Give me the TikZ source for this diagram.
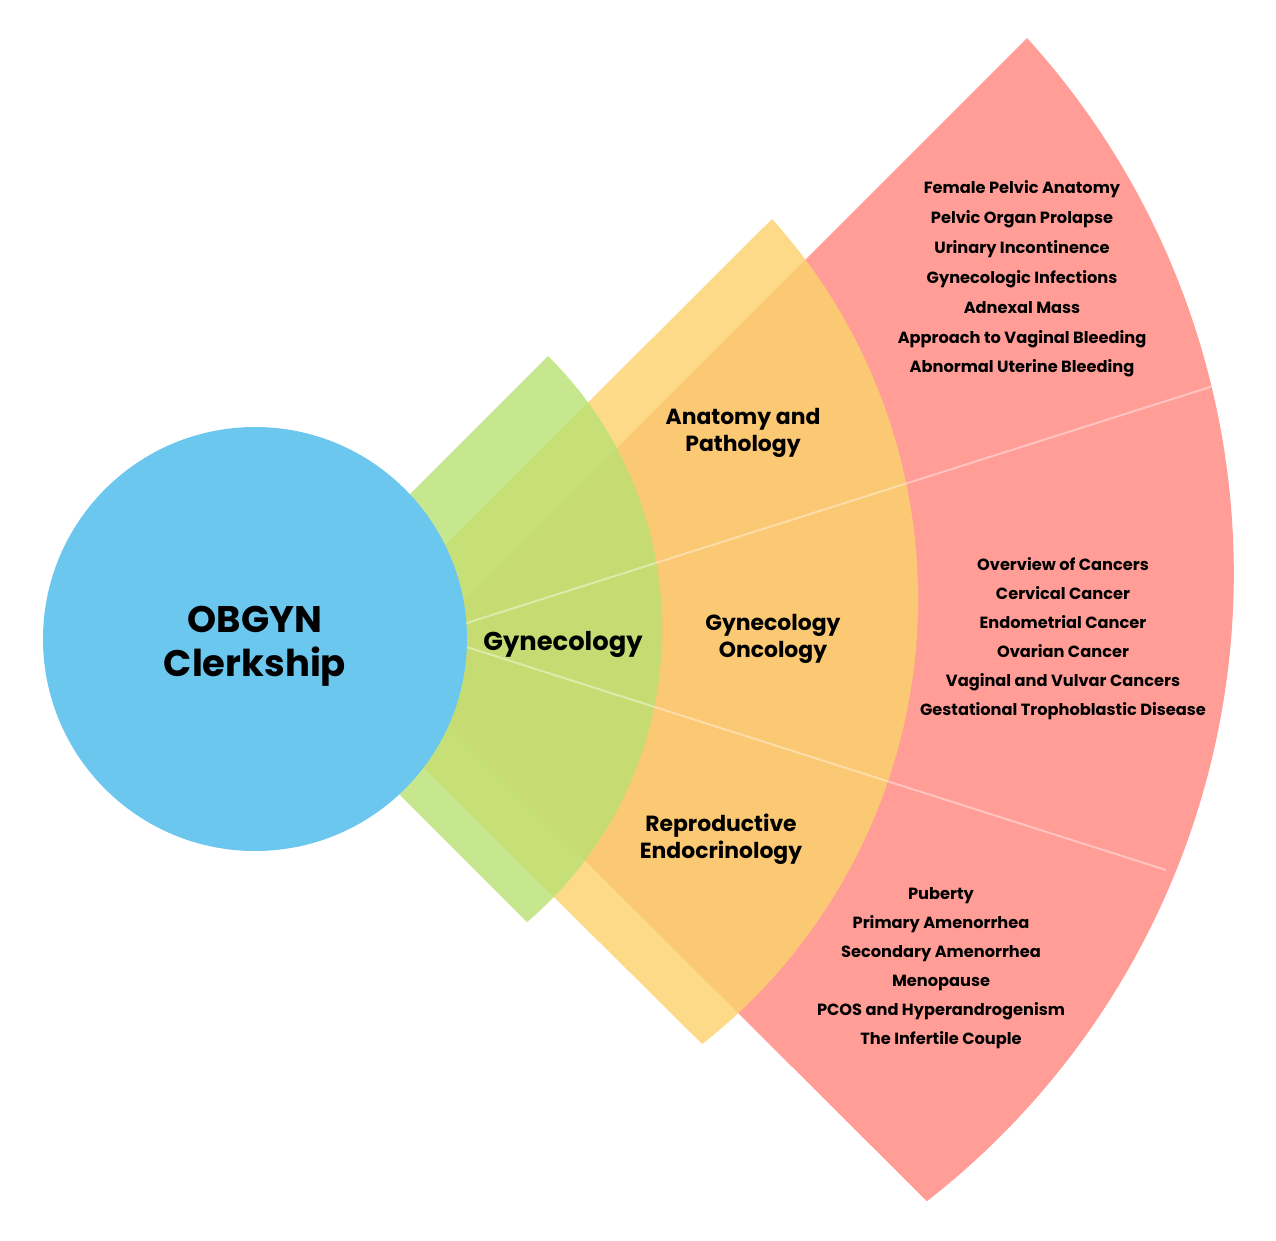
\documentclass[tikz,border=0pt]{standalone}
\usepackage{fontspec}
\setmainfont{Poppins}
\usetikzlibrary{positioning}
\definecolor{skyblue}{RGB}{108,199,239}
\definecolor{leafgreen}{RGB}{185,225,115}
\definecolor{sunyellow}{RGB}{251,210,108}
\definecolor{coral}{RGB}{255,157,150}

\begin{document}
\begin{tikzpicture}[x=1pt,y=-1pt,every node/.style={align=center,inner sep=0pt},
  topic/.style={font=\fontsize{16.2}{19}\selectfont\bfseries},
  area/.style={font=\fontsize{21.9}{27}\selectfont\bfseries}]
\useasboundingbox (0,0) rectangle (1276,1240);
% the three fans, outermost first
\fill[coral] (394.5,670.5) -- (1027,38) arc[start angle=-42.25,end angle=52.09,radius=796] -- cycle;
\fill[sunyellow,opacity=.82] (322.5,667.5) -- (772,219) arc[start angle=-42.07,end angle=51.74,radius=567] -- cycle;
\fill[leafgreen,opacity=.8] (254.5,649.5) -- (548,356) arc[start angle=-45.33,end angle=49.57,radius=384.5] -- cycle;
% dividers
\coordinate (upin) at (440,631.5);
\coordinate (upout) at (1218,384.5);
\coordinate (lowin) at (440,638.5);
\coordinate (lowout) at (1166,870);
\draw[white,opacity=.4,line width=2pt] (upin) -- (upout);
\draw[white,opacity=.4,line width=2pt] (lowin) -- (lowout);
% hub
\fill[skyblue] (255,639) circle (212);
\node[font=\fontsize{37}{44}\selectfont\bfseries] (obgyn) at (255,646) {OBGYN\\Clerkship};
\node[font=\fontsize{25.8}{30}\selectfont\bfseries] (gyn) at (563,644) {Gynecology};
\node[area] (anat) at (743,433) {Anatomy and\\Pathology};
\node[area] (onco) at (773,639) {Gynecology\\Oncology};
\node[area] (endo) at (721,839) {Reproductive\\Endocrinology};
% topics
\foreach \t [count=\i] in {Female Pelvic Anatomy,Pelvic Organ Prolapse,Urinary Incontinence,Gynecologic Infections,Adnexal Mass,Approach to Vaginal Bleeding,Abnormal Uterine Bleeding}
  \node[topic,anchor=base] (ap\i) at (1022,{193.5+29.9*(\i-1)}) {\t};
\foreach \t [count=\i] in {Overview of Cancers,Cervical Cancer,Endometrial Cancer,Ovarian Cancer,Vaginal and Vulvar Cancers,Gestational Trophoblastic Disease}
  \node[topic,anchor=base] (gc\i) at (1063,{570.5+29*(\i-1)}) {\t};
\foreach \t [count=\i] in {Puberty,Primary Amenorrhea,Secondary Amenorrhea,Menopause,PCOS and Hyperandrogenism,The Infertile Couple}
  \node[topic,anchor=base] (re\i) at (941,{899.5+29*(\i-1)}) {\t};
\end{tikzpicture}
\end{document}
